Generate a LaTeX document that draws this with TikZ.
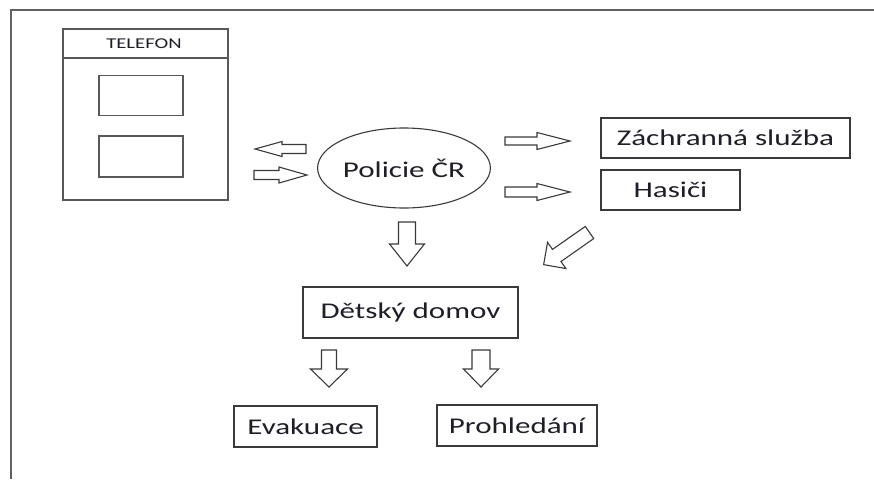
\documentclass[tikz,border=0pt]{standalone}
\usepackage{fontspec}
\setmainfont{Carlito}[FakeStretch=1.38]
\usetikzlibrary{shapes.geometric}
\definecolor{linec}{HTML}{3A3A3A}
\definecolor{textc}{HTML}{1E1E28}
\tikzset{
  frameline/.style={draw=linec!80, line width=1.6pt},
  boxnode/.style={draw=linec, line width=1.4pt, inner sep=0pt, text=textc,
    font=\fontsize{22.5}{27}\selectfont},
  plainbox/.style={draw=linec!85, line width=1.2pt},
  arrowline/.style={draw=linec, line width=1.1pt, line join=miter, fill=white},
  pics/barrow/.style n args={4}{code={
    \draw[arrowline] (0,-#3) -- ({#1-#2},-#3) -- ({#1-#2},-#4) -- (#1,0)
      -- ({#1-#2},#4) -- ({#1-#2},#3) -- (0,#3) -- cycle;
  }}
}
\begin{document}
\begin{tikzpicture}[x=1pt,y=-1pt]
\useasboundingbox (0,0) rectangle (874,479);
% frame
\coordinate (fbl) at (11,479);
\coordinate (ftl) at (11,10);
\coordinate (ftr) at (874,10);
\draw[frameline] (fbl) -- (ftl) -- (ftr);
% phone
\node[plainbox, minimum width=165pt, minimum height=171pt, inner sep=0pt] (phone) at (145.5,114.5) {};
\draw[plainbox] (63,58) -- (228,58);
\node[text=textc, font=\fontsize{15}{18}\selectfont, inner sep=0pt] (tel) at (144,44) {TELEFON};
\node[plainbox, minimum width=84pt, minimum height=40pt, inner sep=0pt] (scr1) at (141,95.5) {};
\node[plainbox, minimum width=84pt, minimum height=41pt, inner sep=0pt] (scr2) at (141,156.5) {};
% police
\node[ellipse, draw=linec, line width=1.1pt, minimum width=146pt, minimum height=80pt, inner sep=0pt,
  text=textc, font=\fontsize{22.5}{27}\selectfont] (pol) at (404,168) {Policie ČR};
% boxes
\node[boxnode, minimum width=249pt, minimum height=40pt] (zach) at (725.5,138) {Záchranná služba};
\node[boxnode, minimum width=139pt, minimum height=40pt] (has) at (670.5,190) {Hasiči};
\node[boxnode, minimum width=215pt, minimum height=51pt] (dd) at (410.5,312.5) {Dětský domov};
\node[boxnode, minimum width=143pt, minimum height=41pt] (eva) at (305.5,426.5) {Evakuace};
\node[boxnode, minimum width=160pt, minimum height=41pt] (pro) at (517,425.5) {Prohledání};
% block arrows
\pic[rotate=180] at (306,149) {barrow={51}{27}{4.5}{7.5}};
\pic at (254,175) {barrow={53}{28}{4.5}{8}};
\pic at (505,141) {barrow={65}{33}{4}{8.5}};
\pic at (505,192) {barrow={65}{33}{5}{8.5}};
\pic[rotate=-90] at (407,222) {barrow={44}{22}{8.5}{17.5}};
\pic[rotate=215] at (589.5,232.5) {barrow={56}{16}{7.4}{16}};
\pic[rotate=-90] at (329,350) {barrow={37}{18}{7.5}{18.5}};
\pic[rotate=-90] at (481,350) {barrow={37}{18}{9}{17.5}};
\end{tikzpicture}
\end{document}
